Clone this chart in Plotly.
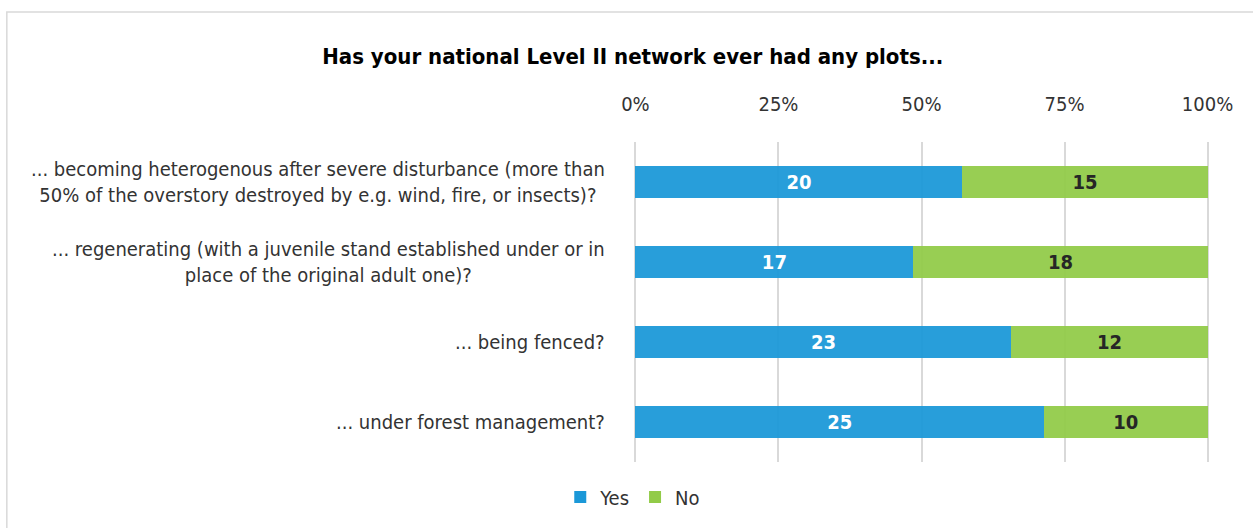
import plotly.graph_objects as go

title = "Has your national Level II network ever had any plots..."
categories = [
    "... becoming heterogenous after severe disturbance (more than<br>50% of the overstory destroyed by e.g. wind, fire, or insects)?",
    "... regenerating (with a juvenile stand established under or in<br>place of the original adult one)?",
    "... being fenced?",
    "... under forest management?",
]
yes_counts = [20, 17, 23, 25]
no_counts = [15, 18, 12, 10]
tick_values = [0, 25, 50, 75, 100]
tick_labels = ["0%", "25%", "50%", "75%", "100%"]

FONT = "Liberation Sans Narrow, DejaVu Sans Condensed, Arial Narrow, sans-serif"
ids = list(range(len(categories)))

fig = go.Figure()
fig.add_trace(go.Bar(
    name="Yes", y=ids, x=yes_counts, orientation="h",
    text=yes_counts, textposition="inside", insidetextanchor="middle",
    textfont=dict(color="white", size=20, family=FONT, weight="bold"),
    marker=dict(color="#1B98D8", opacity=0.94, line=dict(width=0)),
    hoverinfo="skip",
))
fig.add_trace(go.Bar(
    name="No", y=ids, x=no_counts, orientation="h",
    text=no_counts, textposition="inside", insidetextanchor="middle",
    textfont=dict(color="#262626", size=20, family=FONT, weight="bold"),
    marker=dict(color="#92CB48", opacity=0.94, line=dict(width=0)),
    hoverinfo="skip",
))

for i, c in enumerate(categories):
    fig.add_annotation(
        x=0, xref="paper", y=i, yref="y", text=c, showarrow=False,
        xanchor="right", yanchor="middle", align="center", xshift=-27,
        font=dict(size=20, color="#333333", family=FONT),
    )

fig.add_shape(
    type="rect", xref="paper", yref="paper",
    x0=(10 - 635) / 573, x1=(1270 - 635) / 573,
    y0=(462 - 545) / 320, y1=(462 - 12) / 320,
    line=dict(color="#D9D9D9", width=1.5), fillcolor="rgba(0,0,0,0)", layer="below",
)

fig.update_layout(
    width=1253, height=528,
    barmode="stack", barnorm="percent", bargap=0.61,
    paper_bgcolor="white", plot_bgcolor="white",
    margin=dict(l=634, r=44, t=142, b=66),
    font=dict(family=FONT, color="#333333"),
    title=dict(
        text="<b>" + title + "</b>", x=0.505, xref="container", xanchor="center",
        y=1 - 56 / 528, yref="container", yanchor="middle",
        font=dict(size=22, color="#000000", family=FONT),
    ),
    legend=dict(
        orientation="h", xref="container", yref="container",
        x=0.505, xanchor="center", y=31 / 528, yanchor="middle",
        font=dict(size=20, color="#333333", family=FONT),
        itemwidth=30, traceorder="normal",
    ),
    xaxis=dict(
        side="top", range=[-0.25, 100.25], tickvals=tick_values, ticktext=tick_labels,
        showgrid=True, gridcolor="#D9D9D9", gridwidth=1.5, zeroline=False,
        tickfont=dict(size=20, color="#333333", family=FONT), ticks="", ticklen=0,
        ticklabelstandoff=26,
        showline=False, fixedrange=True,
    ),
    yaxis=dict(
        range=[len(categories) - 0.5, -0.5], showticklabels=False,
        showgrid=False, zeroline=False, showline=False, fixedrange=True,
    ),
    showlegend=True,
)

fig.write_html("out.html", config={"displayModeBar": False},
               post_script="document.body.style.margin='0';")
